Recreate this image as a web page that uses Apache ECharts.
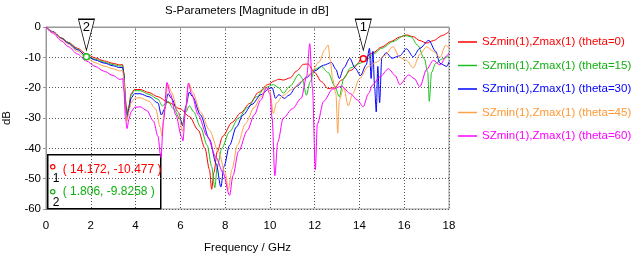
<!DOCTYPE html>
<html lang="en">
<head>
    <meta charset="UTF-8">
    <title>S-Parameters</title>
    <script src="https://cdn.jsdelivr.net/npm/echarts@6/dist/echarts.min.js" type="text/javascript"></script>
    <style>
        body { margin: 0; background: #fff; }
        #chart { width: 632px; height: 258px; }
    </style>
</head>
<body>
<div id="chart"></div>
<script>
    // frequency in GHz, magnitude in dB
    var theta0 = [[0,0],[0.3,-1.5],[0.7,-3.6],[1.0,-5.1],[1.4,-7.0],[1.8,-8.9],[2.2,-10.2],[2.6,-11.2],[3.0,-12.0],[3.3,-12.5],[3.42,-12.4],[3.48,-15],[3.55,-24],[3.62,-29],[3.7,-26],[3.8,-22],[3.95,-20.6],[4.2,-20.6],[4.6,-21.6],[5.0,-23],[5.5,-25],[6.0,-27],[6.4,-29.5],[6.8,-34],[7.1,-40],[7.3,-47],[7.4,-53.5],[7.5,-48],[7.65,-41],[7.9,-36],[8.3,-31.5],[8.7,-28.3],[9.1,-25.2],[9.5,-21.5],[9.9,-19],[10.2,-17.8],[10.4,-17.2],[10.6,-17.5],[10.9,-16.8],[11.2,-14.5],[11.5,-12.3],[11.7,-12.2],[12.0,-15],[12.3,-18],[12.6,-20.3],[12.9,-20],[13.2,-17.5],[13.6,-14.3],[14.172,-10.477],[14.6,-8.5],[15.0,-6.6],[15.4,-4.8],[15.8,-3.3],[16.1,-2.6],[16.4,-3.2],[16.7,-4.5],[17.0,-5.3],[17.3,-4.5],[17.7,-2.8],[18,-1.5]];
    var theta15 = [[0,0],[0.3,-1.55],[0.7,-3.7],[1.0,-5.2],[1.4,-7.3],[1.806,-9.83],[2.2,-10.6],[2.6,-11.6],[3.0,-12.4],[3.3,-12.9],[3.42,-12.8],[3.48,-15.5],[3.55,-25],[3.62,-29.5],[3.7,-26.5],[3.8,-22.5],[3.95,-21],[4.2,-21],[4.6,-22.2],[5.0,-23.8],[5.2,-26],[5.45,-24.5],[5.7,-27],[6.0,-30.5],[6.1,-32],[6.25,-28],[6.4,-26],[6.6,-28],[6.9,-33],[7.2,-39],[7.4,-46],[7.54,-53],[7.65,-46],[7.85,-40],[8.2,-34.5],[8.6,-30],[9.0,-26.5],[9.4,-23],[9.8,-20],[10.15,-19],[10.4,-20],[10.6,-21.8],[10.9,-19.5],[11.3,-15.6],[11.45,-17],[11.63,-22.5],[11.8,-18],[12.0,-14],[12.3,-13],[12.6,-15],[12.9,-19.5],[13.1,-23],[13.3,-17],[13.6,-13.5],[14.0,-12],[14.3,-11],[14.6,-9],[15.0,-7],[15.5,-4.8],[16.0,-2.8],[16.3,-3.2],[16.6,-6],[16.9,-10.5],[17.05,-15],[17.12,-24.5],[17.22,-15],[17.4,-12],[17.7,-10.5],[18,-9.5]];
    var theta30 = [[0,0],[0.3,-1.6],[0.7,-3.8],[1.0,-5.4],[1.4,-7.5],[1.8,-9.5],[2.2,-10.9],[2.6,-11.9],[3.0,-12.8],[3.3,-13.4],[3.42,-13.3],[3.48,-16],[3.55,-26],[3.62,-30],[3.7,-27],[3.8,-23.5],[3.95,-22],[4.2,-22],[4.6,-23],[5.0,-25],[5.15,-29],[5.3,-27],[5.45,-22],[5.6,-23.5],[5.9,-28],[6.1,-32.5],[6.25,-26],[6.4,-21.5],[6.55,-23],[6.9,-29],[7.3,-37],[7.6,-45],[7.81,-52.7],[7.95,-46],[8.2,-39],[8.5,-33],[8.8,-29],[9.2,-25.5],[9.6,-22.3],[10.0,-20.2],[10.1,-20],[10.25,-23.5],[10.4,-22.3],[10.65,-23.5],[10.85,-22.5],[11.2,-19.5],[11.6,-16.8],[12.0,-14.5],[12.4,-12.6],[12.75,-11.7],[12.95,-14],[13.1,-17],[13.3,-13.5],[13.57,-10.3],[13.8,-13.5],[14.05,-16],[14.3,-12.5],[14.45,-7],[14.52,-17],[14.6,-8],[14.68,-20],[14.75,-28],[14.82,-13],[14.9,-25],[15.0,-10],[15.2,-8.5],[15.45,-10.3],[15.8,-9.5],[16.1,-7.2],[16.4,-9.8],[16.7,-7],[17.1,-4.4],[17.4,-8],[17.6,-12],[17.9,-13],[18,-11.5]];
    var theta45 = [[0,0],[0.3,-1.7],[0.7,-4.0],[1.0,-5.7],[1.4,-8.0],[1.8,-10.2],[2.2,-11.8],[2.6,-12.9],[3.0,-13.8],[3.3,-14.5],[3.42,-14.3],[3.48,-17],[3.55,-27],[3.62,-31],[3.7,-28],[3.8,-25],[3.95,-23.5],[4.2,-23.3],[4.6,-24.5],[4.9,-27],[5.1,-33],[5.18,-36],[5.28,-28],[5.45,-18.8],[5.6,-21.5],[5.9,-28],[6.1,-34.5],[6.22,-28],[6.38,-18.5],[6.55,-21.5],[6.9,-28],[7.3,-34],[7.7,-41],[8.0,-48],[8.15,-53.5],[8.3,-47],[8.55,-39],[8.9,-32],[9.3,-26.5],[9.6,-23],[9.85,-19.8],[10.0,-21],[10.15,-28.5],[10.3,-25],[10.6,-22.5],[11.0,-20.5],[11.4,-18],[11.8,-15.5],[12.2,-11.5],[12.45,-7.5],[12.6,-5.9],[12.7,-11],[12.8,-17],[12.95,-22],[13.03,-35],[13.1,-24],[13.3,-20],[13.5,-26],[13.7,-22],[14.0,-17],[14.4,-13],[14.8,-11.5],[15.1,-9.5],[15.5,-6.5],[15.8,-10],[16.1,-11],[16.4,-13.5],[16.7,-9],[17.0,-6.5],[17.3,-8],[17.6,-10],[17.85,-6],[18,-7]];
    var theta60 = [[0,0],[0.3,-2.0],[0.7,-4.6],[1.0,-6.5],[1.4,-8.9],[1.8,-11.2],[2.2,-13.0],[2.6,-14.6],[3.0,-16.0],[3.3,-17.3],[3.42,-17.0],[3.48,-21],[3.55,-30],[3.62,-33.5],[3.7,-30.5],[3.8,-28],[3.95,-26.5],[4.2,-26.3],[4.5,-27.5],[4.8,-31],[5.0,-36],[5.13,-43],[5.25,-31],[5.4,-18.3],[5.55,-22],[5.8,-29],[6.05,-36],[6.12,-37.5],[6.22,-28],[6.36,-18.5],[6.5,-22],[6.8,-29],[7.2,-36],[7.6,-43],[7.9,-48],[8.2,-55.5],[8.35,-49],[8.6,-41],[9.0,-34],[9.3,-29],[9.6,-24],[9.85,-20],[10.0,-22],[10.1,-30],[10.22,-49],[10.35,-38],[10.6,-30],[11.0,-27],[11.4,-23.5],[11.65,-16],[11.78,-5.5],[11.9,-20],[12.03,-47],[12.12,-32],[12.4,-24.5],[12.8,-20.5],[13.2,-19.5],[13.6,-22],[13.9,-24],[14.17,-26.3],[14.4,-22],[14.6,-19],[14.9,-16.5],[15.3,-13.8],[15.6,-16],[15.8,-19],[16.2,-15.8],[16.45,-17],[16.7,-19.7],[17.0,-14],[17.3,-11],[17.6,-12.5],[17.9,-9.5],[18,-8.5]];

    var names = ['SZmin(1),Zmax(1) (theta=0)', 'SZmin(1),Zmax(1) (theta=15)', 'SZmin(1),Zmax(1) (theta=30)',
        'SZmin(1),Zmax(1) (theta=45)', 'SZmin(1),Zmax(1) (theta=60)'];
    var colors = ['#ff0000', '#1cc01c', '#0000ff', '#ffa04a', '#ff00ff'];
    var textColors = ['#ff0000', '#10b010', '#0000ff', '#ff9933', '#ff00ff'];
    var allData = [theta0, theta15, theta30, theta45, theta60];

    // markers: 1 on theta=0, 2 on theta=15
    var marker1 = [14.172, -10.477];
    var marker2 = [1.806, -9.8258];

    var font = 'Liberation Sans';

    function markerPoints(pt, label, col, offY) {
        return {
            silent: true,
            data: [
                {
                    coord: pt, symbol: 'circle', symbolSize: 6,
                    itemStyle: { color: '#fff', borderColor: col, borderWidth: 1.5 },
                    label: { show: false }
                },
                {
                    coord: pt, symbol: 'path://M0,0L16,0L8,32Z', symbolSize: [16, 31], symbolOffset: [0, offY],
                    itemStyle: { color: '#fff', borderColor: '#000', borderWidth: 1 },
                    label: { show: true, position: 'inside', offset: [0, -7], formatter: label,
                        color: '#000', fontSize: 13, fontFamily: font }
                }
            ]
        };
    }

    var series = [];
    for (var i = 0; i < allData.length; i++) {
        var s = {
            name: names[i],
            type: 'line',
            data: allData[i],
            showSymbol: false,
            smooth: 0.3,
            smoothMonotone: 'x',
            lineStyle: { color: colors[i], width: 1 },
            itemStyle: { color: colors[i] },
            emphasis: { disabled: true }
        };
        if (i == 0) s.markPoint = markerPoints(marker1, '1', colors[0], -24);
        if (i == 1) s.markPoint = markerPoints(marker2, '2', colors[1], -22);
        series.push(s);
    }

    var legendData = [];
    for (var j = 0; j < names.length; j++) {
        legendData.push({ name: names[j], textStyle: { color: textColors[j] } });
    }

    var mychart = echarts.init(document.getElementById('chart'));
    option = {
        animation: false,
        backgroundColor: '#fff',
        textStyle: { fontFamily: font },
        title: {
            text: 'S-Parameters [Magnitude in dB]',
            left: 165,
            top: 5,
            padding: 0,
            textStyle: { fontSize: 11.5, fontWeight: 'normal', color: '#000', fontFamily: font }
        },
        legend: {
            orient: 'vertical',
            left: 458,
            top: 35,
            padding: 0,
            icon: 'rect',
            itemWidth: 19,
            itemHeight: 1.5,
            itemGap: 9.5,
            data: legendData,
            textStyle: { fontSize: 11.5, fontFamily: font, lineHeight: 14 }
        },
        grid: {
            left: 46, top: 27, width: 403, height: 182,
            outerBoundsMode: 'none',
            show: true, borderColor: '#999', borderWidth: 1
        },
        xAxis: {
            type: 'value',
            min: 0, max: 18, interval: 2,
            name: 'Frequency / GHz',
            nameLocation: 'middle',
            nameGap: 33,
            nameTextStyle: { fontSize: 11.5, color: '#000', fontFamily: font },
            axisLine: { lineStyle: { color: '#999' } },
            axisTick: { show: true, length: 4, lineStyle: { color: '#999' } },
            axisLabel: { fontSize: 11.5, color: '#000', margin: 11, fontFamily: font },
            splitLine: { show: true, lineStyle: { color: '#555', type: [1, 2] } }
        },
        yAxis: {
            type: 'value',
            min: -60, max: 0, interval: 10,
            name: 'dB',
            nameLocation: 'middle',
            nameGap: 33,
            nameTextStyle: { fontSize: 11.5, color: '#000', fontFamily: font },
            axisLine: { show: true, lineStyle: { color: '#999' } },
            axisTick: { show: true, length: 3, lineStyle: { color: '#999' } },
            axisLabel: { fontSize: 11.5, color: '#000', margin: 5, fontFamily: font },
            splitLine: { show: true, lineStyle: { color: '#555', type: [1, 2] } }
        },
        graphic: [
            {
                type: 'group', left: 47, top: 154, z: 100,
                children: [
                    { type: 'rect', shape: { x: 0, y: 0, width: 113, height: 54 },
                      style: { fill: '#fff', stroke: '#000', lineWidth: 1.5 } },
                    { type: 'circle', shape: { cx: 5, cy: 12, r: 2.2 },
                      style: { fill: '#fff', stroke: textColors[0], lineWidth: 1.2 } },
                    { type: 'text', x: 5, y: 18, style: { text: '1', fontSize: 12, fill: '#000', fontFamily: font } },
                    { type: 'text', x: 15, y: 9, style: { text: '( ' + marker1[0] + ', ' + marker1[1] + ' )',
                        fontSize: 12, fill: textColors[0], fontFamily: font } },
                    { type: 'circle', shape: { cx: 5, cy: 37, r: 2.2 },
                      style: { fill: '#fff', stroke: textColors[1], lineWidth: 1.2 } },
                    { type: 'text', x: 5, y: 42, style: { text: '2', fontSize: 12, fill: '#000', fontFamily: font } },
                    { type: 'text', x: 15, y: 31, style: { text: '( ' + marker2[0] + ', ' + marker2[1] + ' )',
                        fontSize: 12, fill: textColors[1], fontFamily: font } }
                ]
            }
        ],
        series: series
    };
    mychart.setOption(option);
</script>
</body>
</html>
